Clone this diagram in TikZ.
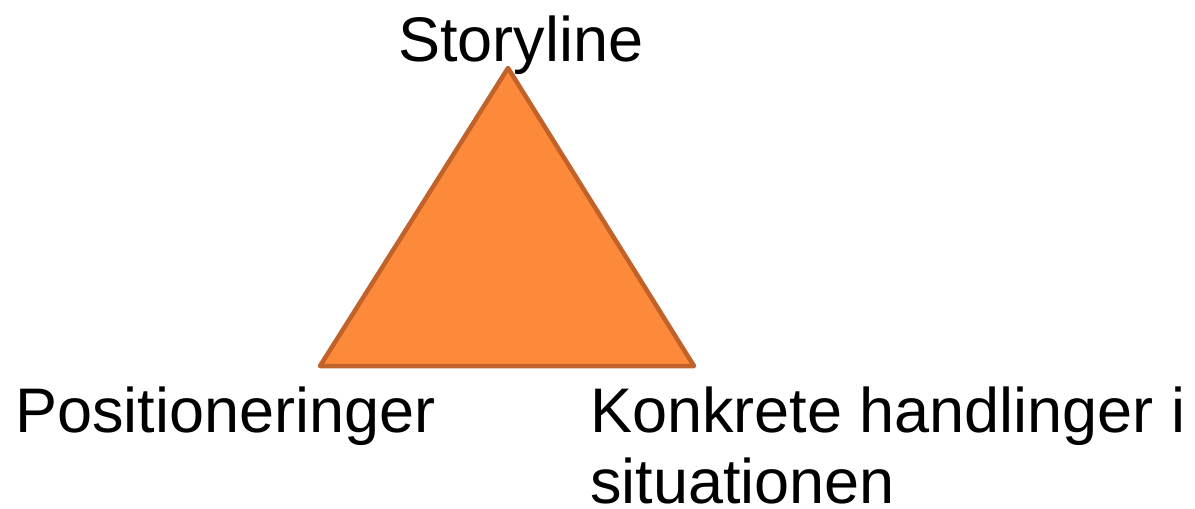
\documentclass[tikz,border=0pt]{standalone}
\usepackage{fontspec}
\setmainfont{Liberation Sans}
\definecolor{trifill}{HTML}{FD8A3A}
\definecolor{triedge}{HTML}{C0622A}
\tikzset{lbl/.style={anchor=base west,inner sep=0pt,font=\fontsize{63}{71}\selectfont}}

\begin{document}
\begin{tikzpicture}[x=1pt,y=-1pt]
	\useasboundingbox (0,0) rectangle (1195,509);
	\coordinate (top) at (508,68);
	\coordinate (left) at (320,366);
	\coordinate (right) at (694,366);
	\draw[fill=trifill,draw=triedge,line width=4.5pt,line join=round] (top)--(left)--(right)--cycle;	%triangle

	%LABELS
	\node[lbl] (story) at (398,61) {Storyline};
	\node[lbl] (pos) at (15,432) {Positioneringer};
	\node[lbl] (konk) at (590,432) {Konkrete handlinger i};
	\node[lbl] (situ) at (590,503) {situationen};
\end{tikzpicture}
\end{document}
